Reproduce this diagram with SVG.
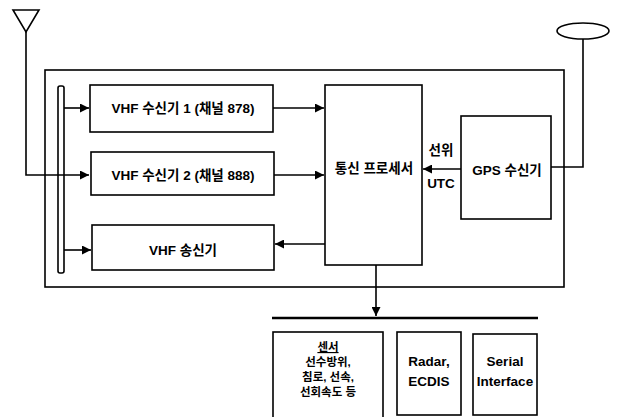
<svg xmlns="http://www.w3.org/2000/svg" width="617" height="417" viewBox="0 0 617 417">
<style>
.box{fill:#fff;stroke:#000;stroke-width:1.6}
.ln{fill:none;stroke:#000;stroke-width:1.6}
.t{font-family:"Liberation Sans","Noto Sans CJK KR",sans-serif;font-size:13.5px;font-weight:bold;fill:#000;text-anchor:middle}
.s{font-size:11.5px}
</style>
<defs>
<marker id="ah" viewBox="0 0 10 10" refX="10" refY="5" markerUnits="userSpaceOnUse" markerWidth="9" markerHeight="9" orient="auto">
<path d="M0,0 L10,5 L0,10 z" fill="#000"/>
</marker>
</defs>
<rect width="617" height="417" fill="#fff"/>
<g id="system-frame"><rect class="box" x="45" y="70" width="519" height="217" fill="none"/></g>
<g id="vhf-antenna"><path class="ln" d="M13,10 L39,10 L26,32 Z"/></g>
<g id="gps-antenna"><ellipse class="ln" cx="583" cy="31" rx="26" ry="8"/></g>
<g id="bus"><rect class="box" x="58" y="86" width="6" height="187" rx="2"/></g>
<g id="connectors">
<path class="ln" d="M26,32 V175 H89" marker-end="url(#ah)"/>
<path class="ln" d="M64,108 H89" marker-end="url(#ah)"/>
<path class="ln" d="M64,250 H91" marker-end="url(#ah)"/>
<path class="ln" d="M273,108 H324" marker-end="url(#ah)"/>
<path class="ln" d="M274,175 H324" marker-end="url(#ah)"/>
<path class="ln" d="M325,244 H275" marker-end="url(#ah)"/>
<path class="ln" d="M461,169 H423" marker-end="url(#ah)"/>
<path class="ln" d="M551,167 H583 V39"/>
<path class="ln" d="M376,265 V316" marker-end="url(#ah)"/>
<path d="M272,318 H538" stroke="#000" stroke-width="2.4" fill="none"/>
</g>
<g id="vhf-rx1"><rect class="box" x="90" y="85" width="183" height="47"/><text class="t" x="183" y="113">VHF 수신기 1 (채널 878)</text></g>
<g id="vhf-rx2"><rect class="box" x="91" y="152" width="183" height="43"/><text class="t" x="183" y="180">VHF 수신기 2 (채널 888)</text></g>
<g id="vhf-tx"><rect class="box" x="92" y="225" width="182" height="45"/><text class="t" x="183" y="255">VHF 송신기</text></g>
<g id="processor"><rect class="box" x="325" y="85" width="97" height="180"/><text class="t" x="374" y="173">통신 프로세서</text></g>
<g id="gps"><rect class="box" x="461" y="116" width="90" height="103"/><text class="t" x="507" y="175">GPS 수신기</text></g>
<g id="gps-labels"><text class="t" x="441" y="155">선위</text><text class="t" x="441" y="188">UTC</text></g>
<g id="sensor"><rect class="box" x="273" y="332" width="110" height="90"/>
<text class="t s" x="328" y="351" text-decoration="underline">센서</text>
<text class="t s" x="328" y="366">선수방위,</text>
<text class="t s" x="328" y="381">침로, 선속,</text>
<text class="t s" x="328" y="396">선회속도 등</text></g>
<g id="radar"><rect class="box" x="397" y="332" width="64" height="83"/><text class="t" x="429" y="366">Radar,</text><text class="t" x="429" y="386">ECDIS</text></g>
<g id="serial"><rect class="box" x="473" y="334" width="64" height="81"/><text class="t" x="505" y="366">Serial</text><text class="t" x="505" y="386">Interface</text></g>
</svg>
